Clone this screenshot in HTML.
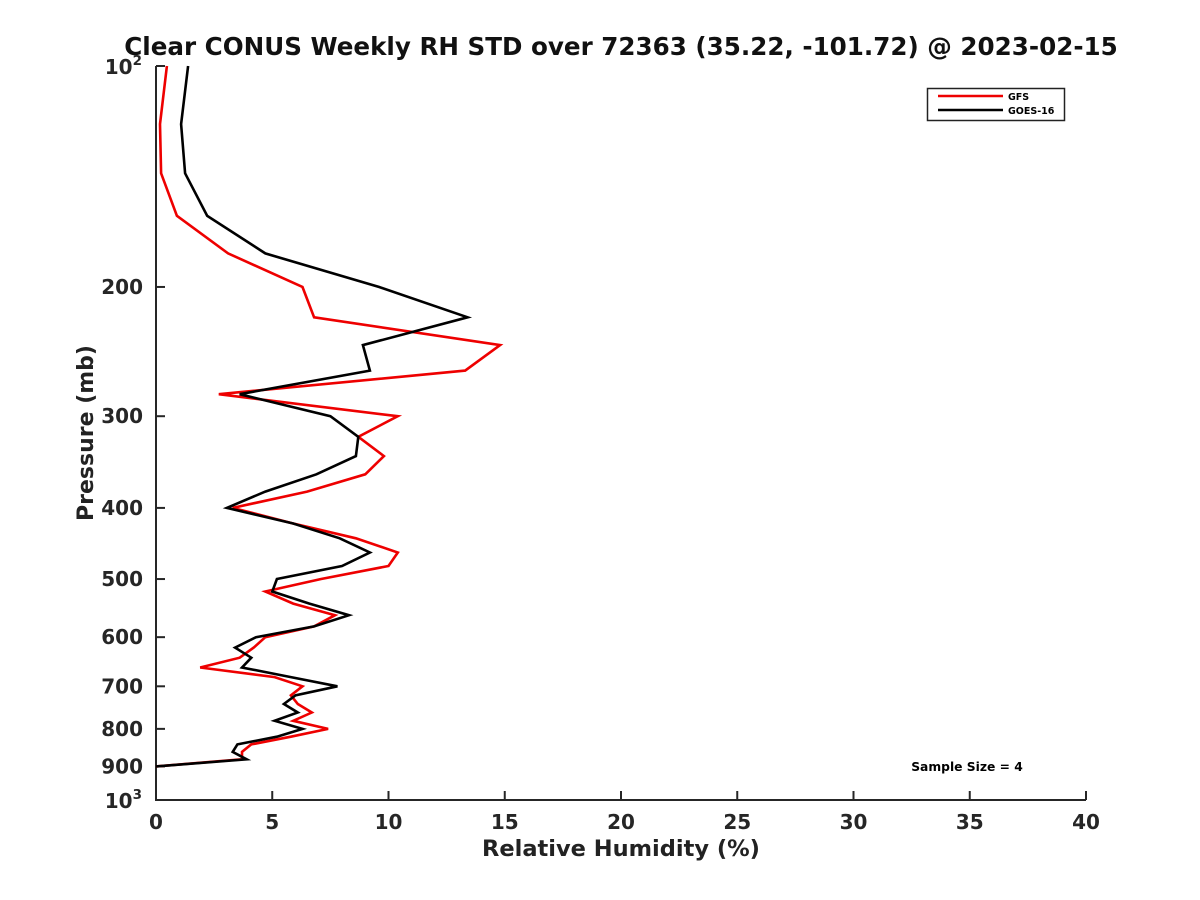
<!DOCTYPE html>
<html><head><meta charset="utf-8"><style>body{margin:0;background:#fff}svg{display:block}</style></head>
<body>
<svg id="chart" width="1200" height="900" xmlns="http://www.w3.org/2000/svg" font-family="'DejaVu Sans','Liberation Sans',sans-serif">
<text x="621" y="55" text-anchor="middle" font-size="24.6" font-weight="bold" fill="#111">Clear CONUS Weekly RH STD over 72363 (35.22, -101.72) @ 2023-02-15</text>
<g id="axes"></g>
<g id="series"></g>
<g>
<rect x="927.5" y="88.5" width="137" height="32" fill="#fff" stroke="#222" stroke-width="1.5"/>
<line x1="938" y1="96" x2="1003" y2="96" stroke="#e00" stroke-width="2.5"/>
<text x="1008" y="100" font-size="9.5" font-weight="bold">GFS</text>
<line x1="938" y1="110" x2="1003" y2="110" stroke="#000" stroke-width="2.5"/>
<text x="1008" y="114" font-size="9.5" font-weight="bold">GOES-16</text>
</g>
<text x="967" y="771" text-anchor="middle" font-size="12.3" font-weight="bold">Sample Size = 4</text>
<text x="621" y="856" text-anchor="middle" font-size="22.5" font-weight="bold" fill="#222">Relative Humidity (%)</text>
<text transform="translate(93,433) rotate(-90)" text-anchor="middle" font-size="22" font-weight="bold" fill="#222">Pressure (mb)</text>
</svg>
<script>
const levels = [100,120,140,160,180,200,220,240,260,280,300,320,340,360,380,400,420,440,460,480,500,520,540,560,580,600,620,640,660,680,700,720,740,760,780,800,820,840,860,880,900];
const gfs = [0.47,0.17,0.22,0.9,3.1,6.3,6.8,14.8,13.3,2.7,10.4,8.7,9.8,9.0,6.5,3.3,5.9,8.6,10.4,10.0,7.1,4.7,5.9,7.7,6.8,4.7,4.2,3.6,1.9,5.1,6.3,5.8,6.1,6.7,5.9,7.4,5.8,4.1,3.7,3.7,0];
const goes = [1.38,1.08,1.25,2.2,4.7,9.6,13.4,8.9,9.2,3.6,7.5,8.7,8.6,6.9,4.7,3.05,5.9,7.9,9.2,8.0,5.2,5.0,6.6,8.3,6.8,4.3,3.4,4.1,3.7,5.8,7.8,6.0,5.5,6.1,5.1,6.3,5.2,3.5,3.3,3.9,0];
const xTicks = [0,5,10,15,20,25,30,35,40];
const yTicks = [200,300,400,500,600,700,800,900];
const NS="http://www.w3.org/2000/svg";
const L=156,R=1086,T=66,B=800;
const xs=v=>L+(v-0)/(40-0)*(R-L);
const ys=p=>T+Math.log10(p/100)*(B-T);
const axes=document.getElementById('axes'), ser=document.getElementById('series');
function mk(tag,attrs,parent){const e=document.createElementNS(NS,tag);for(const k in attrs)e.setAttribute(k,attrs[k]);parent.appendChild(e);return e;}
let a=mk('path',{d:`M${L},${T}V${B}H${R}`,fill:'none',stroke:'#262626','stroke-width':2},axes);


xTicks.forEach(v=>{
  const t=mk('line',{x1:xs(v),x2:xs(v),y1:B,y2:B-9,stroke:'#262626','stroke-width':2},axes);
  
  
  const tx=mk('text',{x:xs(v),y:B+29,'text-anchor':'middle','font-size':20,'font-weight':'bold',fill:'#262626'},axes);
  tx.textContent=v;
  
  
});
yTicks.forEach(p=>{
  const t=mk('line',{x1:L,x2:L+9,y1:ys(p),y2:ys(p),stroke:'#262626','stroke-width':2},axes);
  
  
  const tx=mk('text',{x:L-13,y:ys(p)+7,'text-anchor':'end','font-size':20,'font-weight':'bold',fill:'#262626'},axes);
  tx.textContent=p;
  
  
});
[[100,'2'],[1000,'3']].forEach(([p,e])=>{
  const t=mk('line',{x1:L,x2:L+9,y1:ys(p),y2:ys(p),stroke:'#262626','stroke-width':2},axes);
  
  
  const tx=mk('text',{x:L-14,y:ys(p)+8,'text-anchor':'end','font-size':20,'font-weight':'bold',fill:'#262626'},axes);
  tx.innerHTML='10<tspan font-size="13.5" dy="-9">'+e+'</tspan>';
  
  
});
function line(vals,color,name){
  const d=vals.map((v,i)=>(i?'L':'M')+xs(v).toFixed(1)+','+ys(levels[i]).toFixed(1)).join('');
  const p=mk('path',{d:d,fill:'none',stroke:color,'stroke-width':2.6,'stroke-linejoin':'miter'},ser);
  
  
}
line(gfs,'#e00','gfs-line');
line(goes,'#000','goes16-line');
</script>
</body></html>
